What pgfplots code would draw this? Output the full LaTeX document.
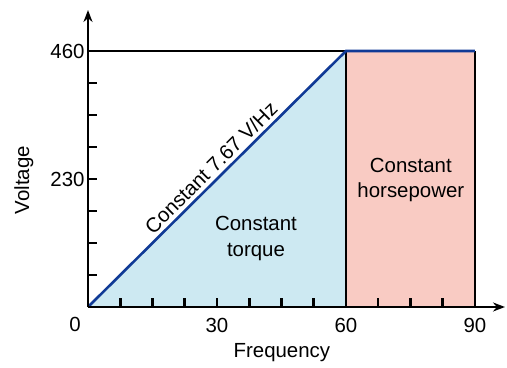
\documentclass[border=0pt]{standalone}
\usepackage{fontspec}
\setmainfont{Liberation Sans}
\usepackage{pgfplots}
\pgfplotsset{compat=1.18}
\usetikzlibrary{arrows.meta}
\definecolor{torqueblue}{RGB}{205,233,242}
\definecolor{hppink}{RGB}{249,203,195}
\definecolor{lineblue}{RGB}{16,58,150}
\newcommand\fs{\fontsize{20.5}{24}\selectfont}
\begin{document}
\begin{tikzpicture}[font=\fs]
\begin{axis}[
  at={(0,0)}, anchor=south west,
  scale only axis, width=417bp, height=297bp,
  xmin=0, xmax=97, ymin=0, ymax=533.7,
  axis lines=left,
  axis line style={line width=2.8bp, -{Stealth[length=12bp,width=9bp]}},
  xtick={30,60,90}, ytick={230,460},
  minor xtick={7.5,15,22.5,37.5,45,52.5,67.5,75,82.5},
  minor ytick={57.5,115,172.5,287.5,345,402.5},
  tick align=inside,
  major tick length=9bp, minor tick length=9bp,
  tick style={black, line width=2.6bp},
  minor tick style={black, line width=2.6bp},
  xticklabel style={anchor=base, yshift=-25bp},
  /pgf/number format/assume math mode=true,
  axis on top, clip=false,
]
\addplot[fill=torqueblue, draw=none] coordinates {(0,0) (60,460) (60,0) (0,0)};
\addplot[fill=hppink, draw=none] coordinates {(60,0) (60,460) (90,460) (90,0) (60,0)};
\addplot[black, line width=2.6bp] coordinates {(0,460) (60,460)};
\addplot[black, line width=2.6bp] coordinates {(60,0) (60,460)};
\addplot[black, line width=2.6bp] coordinates {(90,0) (90,460)};
\addplot[lineblue, line width=2.6bp] coordinates {(0,0) (60,460) (90,460)};
\node[anchor=base] at (axis cs:-3.02,-44.9) {0};
\node[anchor=base] at (axis cs:45.1,-91.6) {Frequency};
\node[anchor=base, rotate=90] at (axis cs:-13.7,228) {Voltage};
\node[anchor=base, rotate=44.8] at (axis cs:29.8,240.8) {Constant 7.67 V/Hz};
\node[anchor=base] at (axis cs:39.07,136.6) {Constant};
\node[anchor=base] at (axis cs:39.07,91.6) {torque};
\node[anchor=base] at (axis cs:75.1,240.8) {Constant};
\node[anchor=base] at (axis cs:75.1,195.9) {horsepower};
\end{axis}
\pgfresetboundingbox
\path (-88bp,-61bp) rectangle (419bp,307bp);
\end{tikzpicture}
\end{document}
